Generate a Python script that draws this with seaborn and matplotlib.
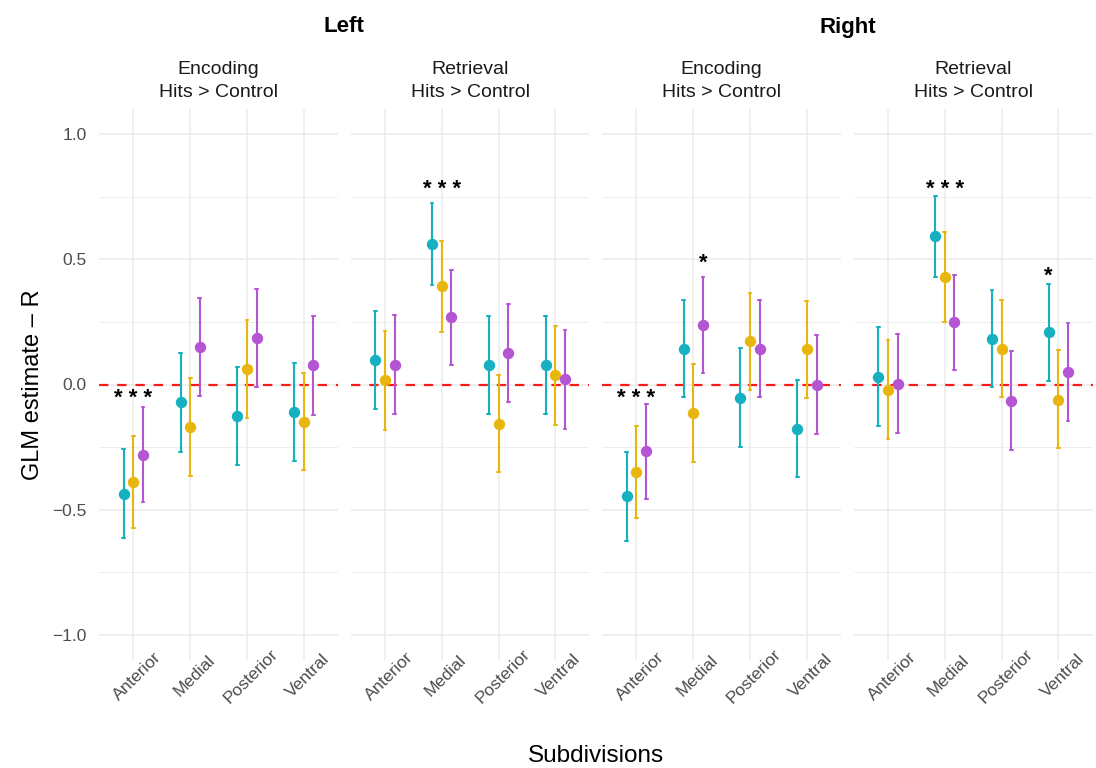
import numpy as np
import pandas as pd
import matplotlib
matplotlib.use("Agg")
import matplotlib.pyplot as plt
import matplotlib.transforms as mtransforms
from matplotlib.ticker import FixedLocator, FuncFormatter
import seaborn as sns

# ---------------- data ----------------
subdivisions = ["Anterior", "Medial", "Posterior", "Ventral"]
series = ["Group 1", "Group 2", "Group 3"]
palette = ["#17B0C1", "#E8B60F", "#B455D3"]

hemispheres = ["Left", "Right"]
panel_hemi = ["Left", "Left", "Right", "Right"]
panel_titles = ["Encoding\nHits > Control", "Retrieval\nHits > Control",
                "Encoding\nHits > Control", "Retrieval\nHits > Control"]

# rows = subdivisions (Anterior, Medial, Posterior, Ventral); cols = series
est_left_enc = [[-0.436, -0.390, -0.283], [-0.071, -0.170, 0.150],
                [-0.126, 0.060, 0.186], [-0.111, -0.149, 0.076]]
lo_left_enc = [[-0.614, -0.571, -0.471], [-0.269, -0.366, -0.046],
               [-0.321, -0.134, -0.009], [-0.307, -0.343, -0.121]]
hi_left_enc = [[-0.257, -0.207, -0.091], [0.124, 0.026, 0.346],
               [0.071, 0.259, 0.380], [0.084, 0.046, 0.273]]

est_left_ret = [[0.099, 0.016, 0.079], [0.560, 0.393, 0.269],
                [0.077, -0.157, 0.124], [0.077, 0.037, 0.020]]
lo_left_ret = [[-0.097, -0.180, -0.117], [0.396, 0.211, 0.077],
               [-0.119, -0.351, -0.071], [-0.119, -0.160, -0.176]]
hi_left_ret = [[0.294, 0.213, 0.276], [0.723, 0.573, 0.457],
               [0.274, 0.037, 0.320], [0.274, 0.234, 0.217]]

est_right_enc = [[-0.447, -0.350, -0.267], [0.143, -0.113, 0.237],
                 [-0.054, 0.173, 0.143], [-0.177, 0.140, 0.000]]
lo_right_enc = [[-0.623, -0.533, -0.456], [-0.051, -0.309, 0.044],
                [-0.250, -0.021, -0.051], [-0.371, -0.053, -0.197]]
hi_right_enc = [[-0.271, -0.164, -0.076], [0.339, 0.083, 0.430],
                [0.144, 0.367, 0.339], [0.016, 0.334, 0.197]]

est_right_ret = [[0.031, -0.020, 0.003], [0.591, 0.431, 0.249],
                 [0.183, 0.143, -0.066], [0.209, -0.060, 0.050]]
lo_right_ret = [[-0.164, -0.216, -0.193], [0.431, 0.251, 0.057],
                [-0.011, -0.051, -0.261], [0.013, -0.254, -0.147]]
hi_right_ret = [[0.230, 0.177, 0.203], [0.751, 0.610, 0.439],
                [0.376, 0.339, 0.133], [0.401, 0.139, 0.247]]

panels_est = [est_left_enc, est_left_ret, est_right_enc, est_right_ret]
panels_lo = [lo_left_enc, lo_left_ret, lo_right_enc, lo_right_ret]
panels_hi = [hi_left_enc, hi_left_ret, hi_right_enc, hi_right_ret]

# significance annotations: (panel, subdivision, series or None for group, text, y)
sig_panel = [0, 1, 2, 2, 3, 3]
sig_sub = ["Anterior", "Medial", "Anterior", "Medial", "Medial", "Ventral"]
sig_series = [None, None, None, 2, None, 0]
sig_text = ["* * *", "* * *", "* * *", "*", "* * *", "*"]
sig_y = [-0.047, 0.789, -0.047, 0.493, 0.789, 0.443]

y_ticks = [-1.0, -0.5, 0.0, 0.5, 1.0]

# ---------------- long data ----------------
rows = []
for p in range(4):
    for i, sub in enumerate(subdivisions):
        for j, s in enumerate(series):
            for kind, arr in (("lo", panels_lo[p]), ("est", panels_est[p]), ("hi", panels_hi[p])):
                rows.append({"panel": p, "Subdivision": sub, "Series": s,
                             "kind": kind, "value": arr[i][j]})
df = pd.DataFrame(rows)

# ---------------- figure ----------------
sns.set_theme(style="white")
plt.rcParams["font.family"] = ["Liberation Sans", "DejaVu Sans"]
plt.rcParams["axes.unicode_minus"] = True

W, H = 1096, 768
fig, axes = plt.subplots(1, 4, figsize=(W / 100, H / 100), dpi=100, sharey=True)
fig.subplots_adjust(left=99.3 / W, right=1092.5 / W, top=1 - 109 / H,
                    bottom=1 - 660 / H, wspace=0.0545)

DODGE = 0.34
tick_color = "#4D4D4D"
grid_color = "#EBEBEB"

for p, ax in enumerate(axes):
    d = df[df["panel"] == p]
    ax.axhline(0, color="#FF1A1A", lw=1.6, ls=(0, (4.2, 4.0)), zorder=5)
    sns.pointplot(data=d, x="Subdivision", y="value", hue="Series",
                  order=subdivisions, hue_order=series, palette=palette,
                  estimator="median", errorbar=("pi", 100), dodge=DODGE,
                  linestyle="none", markers="o", markersize=8.2,
                  markeredgewidth=0, capsize=0.05,
                  err_kws={"linewidth": 1.5}, legend=False, ax=ax, zorder=6)
    ax.set_xlim(-0.6, 3.6)
    ax.set_ylim(-1.1, 1.1)
    ax.set_xlabel("")
    ax.set_ylabel("")
    for sp in ax.spines.values():
        sp.set_visible(False)
    ax.yaxis.set_major_locator(FixedLocator(y_ticks))
    ax.yaxis.set_minor_locator(FixedLocator([-0.75, -0.25, 0.25, 0.75]))
    ax.grid(True, which="major", color=grid_color, lw=1.1, zorder=0)
    ax.grid(True, which="minor", axis="y", color=grid_color, lw=0.6, zorder=0)
    ax.set_axisbelow(True)
    ax.tick_params(axis="both", which="both", length=0)
    ax.tick_params(axis="x", pad=11.5, labelsize=12.5, labelcolor=tick_color)
    ax.tick_params(axis="y", pad=9, labelsize=12.5, labelcolor=tick_color)
    for lab in ax.get_xticklabels():
        lab.set_rotation(45)
        lab.set_ha("center")
        lab.set_va("center")
        lab.set_transform(lab.get_transform() +
                          mtransforms.ScaledTranslation(4 / 100, 0, fig.dpi_scale_trans))
    ax.annotate(panel_titles[p], xy=(0.5, 1), xycoords="axes fraction",
                xytext=(0, 6), textcoords="offset points", ha="center",
                va="bottom", fontsize=14, color="#1A1A1A", linespacing=1.4)

axes[0].yaxis.set_major_formatter(FuncFormatter(lambda v, pos: f"{v:.1f}".replace("-", "\u2212")))
for ax in axes[1:]:
    ax.tick_params(axis="y", labelleft=False)

# significance stars
offsets = np.linspace(-DODGE / 2, DODGE / 2, len(series))
for p, sub, s, txt, y in zip(sig_panel, sig_sub, sig_series, sig_text, sig_y):
    x = subdivisions.index(sub) + (0 if s is None else offsets[s])
    axes[p].text(x, y, txt, ha="center", va="center_baseline", fontsize=16,
                 fontweight="bold", color="black", zorder=7)

# hemisphere headers
for k, hemi in enumerate(hemispheres):
    a0 = axes[2 * k].get_position()
    a1 = axes[2 * k + 1].get_position()
    fig.text((a0.x0 + a1.x1) / 2, 1 - 27 / H, hemi, ha="center", va="center",
             fontsize=16, fontweight="bold", color="black")

# axis titles
pos0 = axes[0].get_position()
pos3 = axes[3].get_position()
fig.text((pos0.x0 + pos3.x1) / 2, 1 - 756 / H, "Subdivisions", ha="center",
         va="center", fontsize=17.5, color="black")
fig.text(33 / W, (pos0.y0 + pos0.y1) / 2, "GLM estimate \u2013 R", ha="center",
         va="center", rotation=90, fontsize=17, color="black")

fig.savefig("out.png", dpi=100, facecolor="white")
